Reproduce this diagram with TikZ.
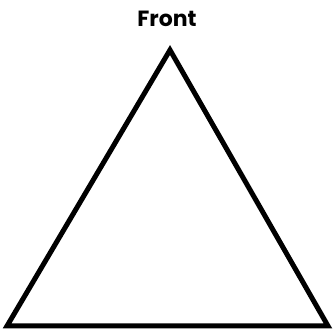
\documentclass[tikz,border=0pt]{standalone}
\usepackage{fontspec}
\setmainfont{Poppins}
\begin{document}
\begin{tikzpicture}[x=1pt,y=-1pt,
  edge/.style={line width=5pt, line join=miter},
  lbl/.style={font=\bfseries\fontsize{22}{26}\selectfont, inner sep=0pt, anchor=base}]
\useasboundingbox (0,0) rectangle (333,331);
\coordinate (apex) at (170,50);
\coordinate (bl) at (7,326);
\coordinate (br) at (328,326);
\draw[edge] (apex) -- (bl) -- (br) -- cycle;
\node[lbl] (front) at (167,26.5) {Front};
\end{tikzpicture}
\end{document}
